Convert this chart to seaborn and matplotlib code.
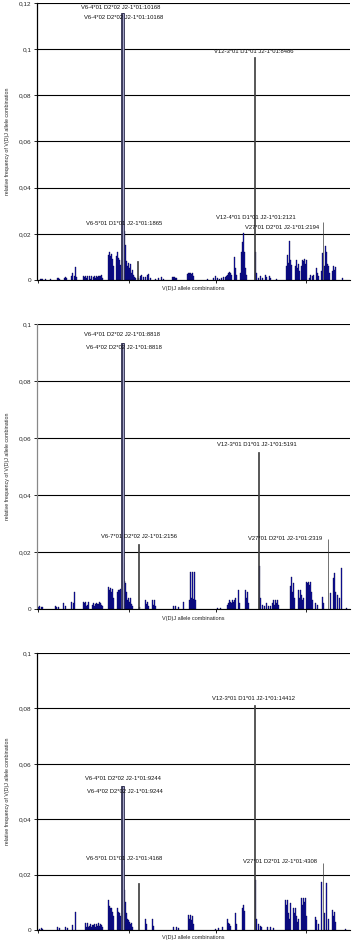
import matplotlib
matplotlib.use("Agg")
import matplotlib.pyplot as plt
import seaborn as sns
import pandas as pd

sns.set_style("white")
plt.rcParams["font.family"] = ["Liberation Sans", "DejaVu Sans"]

# ---- panel 1 : slot index along the V(D)J axis -> relative frequency
pos1 = [2, 3, 4, 5, 8, 13, 20, 21, 22, 27, 28, 29, 34, 35, 37, 38, 39,
        46, 47, 48, 49, 50, 52, 53, 54,
        56, 57, 58, 59, 60, 61, 62, 63, 64, 65,
        71, 72, 73, 74, 75, 76, 79, 80, 81, 82, 83,
        86, 87, 88, 89, 90, 91, 92, 93, 94, 95, 96, 97, 98,
        101, 103, 104, 106, 108, 110, 111, 113, 118, 121, 124, 126,
        135, 136, 137, 138, 139, 150, 151, 152, 153, 154, 155, 156,
        170, 176, 178, 180, 182, 184, 186, 188, 189, 190, 191, 192, 193, 194,
        197, 198, 199, 203, 204, 205, 206, 207, 208, 209, 218, 219,
        221, 223, 225, 228, 229, 232, 233, 239,
        249, 250, 251, 252, 253, 254, 258, 259, 260, 261, 262,
        264, 265, 266, 267, 268, 269, 272, 273, 275, 276, 279, 280, 281,
        284, 285, 287, 288, 289, 290, 291, 292, 295, 296, 297, 298, 305]
val1 = [0.0005, 0.0006, 0.0004, 0.0005, 0.0003, 0.0003, 0.0010, 0.0008, 0.0006,
        0.0009, 0.0012, 0.0007, 0.0015, 0.0032, 0.0018, 0.0058, 0.0012,
        0.0017, 0.0012, 0.0016, 0.0010, 0.0017, 0.0018, 0.0006, 0.0016,
        0.0014, 0.0019, 0.0008, 0.0016, 0.0012, 0.0019, 0.0015, 0.0018, 0.0020, 0.0010,
        0.0110, 0.0119, 0.0105, 0.0112, 0.0090, 0.0060, 0.0105, 0.0120, 0.0095, 0.0088, 0.0065,
        0.0085, 0.0212, 0.0150, 0.0080, 0.0060, 0.0075, 0.0050, 0.0068, 0.0030, 0.0043, 0.0020, 0.0012, 0.0010,
        0.0010, 0.0015, 0.0020, 0.0012, 0.0014, 0.0020, 0.0025, 0.0010, 0.0006, 0.0008, 0.0012, 0.0006,
        0.0013, 0.0012, 0.0014, 0.0010, 0.0008, 0.0025, 0.0030, 0.0028, 0.0030, 0.0024, 0.0030, 0.0018,
        0.0005, 0.0008, 0.0015, 0.0010, 0.0006, 0.0010, 0.0012, 0.0014, 0.0018, 0.0020, 0.0030, 0.0036, 0.0028, 0.0022,
        0.0100, 0.0050, 0.0020, 0.0030, 0.0120, 0.0165, 0.0205, 0.0120, 0.0050, 0.0020, 0.0123, 0.0030,
        0.0010, 0.0015, 0.0008, 0.0020, 0.0012, 0.0018, 0.0010, 0.0005,
        0.0060, 0.0110, 0.0075, 0.0167, 0.0087, 0.0065, 0.0060, 0.0087, 0.0050, 0.0070, 0.0040,
        0.0060, 0.0087, 0.0080, 0.0090, 0.0070, 0.0085, 0.0010, 0.0020, 0.0015, 0.0020, 0.0050, 0.0030, 0.0015,
        0.0040, 0.0116, 0.0060, 0.0145, 0.0120, 0.0070, 0.0060, 0.0030, 0.0040, 0.0060, 0.0045, 0.0055, 0.0010]
peak_pos1 = [84, 85]
peak_val1 = [0.1155, 0.1155]
line_pos1 = [100, 217, 286]
line_val1 = [0.0080, 0.0966, 0.0249]
labels1 = ["V6-4*01 D2*02 J2-1*01:10168", "V6-4*02 D2*02 J2-1*01:10168",
           "V12-3*01 D1*01 J2-1*01:8486", "V6-5*01 D1*01 J2-1*01:1865",
           "V12-4*01 D1*01 J2-1*01:2121", "V27*01 D2*01 J2-1*01:2194"]
yticks1 = [0, 0.02, 0.04, 0.06, 0.08, 0.10, 0.12]
yticklabels1 = ["0", "0,02", "0,04", "0,06", "0,08", "0,1", "0,12"]

# ---- panel 2
pos2 = [0, 1, 3, 5, 18, 19, 21, 26, 28, 34, 36, 37,
        46, 47, 48, 49, 50, 51,
        55, 56, 57, 58, 59, 60, 61, 62, 63, 64, 65,
        71, 72, 73, 74, 75, 76, 80, 81, 82, 83,
        86, 87, 88, 89, 90, 91, 92, 93, 94, 95,
        102, 108, 109, 110, 111, 115, 116, 117, 118,
        136, 138, 141, 146, 152, 153, 154, 155, 156, 157, 158,
        180, 183, 190, 191, 192, 193, 194, 195, 196, 197, 198,
        201, 202, 208, 209, 210, 211, 222, 223,
        225, 227, 229, 231, 233, 235, 236, 237, 238, 239, 240, 241,
        253, 254, 255, 256, 257, 261, 262, 263, 264, 265, 266,
        269, 270, 271, 272, 273, 274, 275, 278, 280, 285, 286,
        293, 296, 297, 298, 300, 302, 304, 309]
val2 = [0.0008, 0.0009, 0.0007, 0.0008, 0.0010, 0.0008, 0.0006, 0.0022, 0.0010, 0.0026, 0.0020, 0.0060,
        0.0026, 0.0020, 0.0026, 0.0012, 0.0015, 0.0026,
        0.0015, 0.0020, 0.0010, 0.0018, 0.0022, 0.0016, 0.0018, 0.0024, 0.0020, 0.0014, 0.0010,
        0.0078, 0.0065, 0.0072, 0.0060, 0.0070, 0.0040, 0.0060, 0.0067, 0.0065, 0.0070,
        0.0160, 0.0100, 0.0090, 0.0060, 0.0030, 0.0040, 0.0025, 0.0040, 0.0018, 0.0010,
        0.0008, 0.0030, 0.0018, 0.0025, 0.0012, 0.0030, 0.0015, 0.0030, 0.0010,
        0.0010, 0.0012, 0.0008, 0.0025, 0.0030, 0.0131, 0.0040, 0.0131, 0.0035, 0.0131, 0.0030,
        0.0005, 0.0005, 0.0015, 0.0020, 0.0030, 0.0025, 0.0020, 0.0030, 0.0025, 0.0030, 0.0040,
        0.0067, 0.0020, 0.0067, 0.0040, 0.0060, 0.0020, 0.0150, 0.0040,
        0.0015, 0.0010, 0.0020, 0.0012, 0.0010, 0.0020, 0.0030, 0.0015, 0.0032, 0.0020, 0.0030, 0.0015,
        0.0080, 0.0113, 0.0060, 0.0090, 0.0040, 0.0067, 0.0040, 0.0067, 0.0050, 0.0030, 0.0040,
        0.0096, 0.0090, 0.0096, 0.0085, 0.0096, 0.0060, 0.0030, 0.0020, 0.0015, 0.0043, 0.0020,
        0.0055, 0.0110, 0.0125, 0.0060, 0.0050, 0.0040, 0.0143, 0.0005]
peak_pos2 = [84, 85]
peak_val2 = [0.0934, 0.0934]
line_pos2 = [101, 221, 291]
line_val2 = [0.0228, 0.0550, 0.0246]
labels2 = ["V6-4*01 D2*02 J2-1*01:8818", "V6-4*02 D2*02 J2-1*01:8818",
           "V12-3*01 D1*01 J2-1*01:5191", "V6-7*01 D2*02 J2-1*01:2156",
           "V27*01 D2*01 J2-1*01:2319"]
yticks2 = [0, 0.02, 0.04, 0.06, 0.08, 0.10]
yticklabels2 = ["0", "0,02", "0,04", "0,06", "0,08", "0,1"]

# ---- panel 3
pos3 = [1, 3, 5, 20, 22, 28, 30, 35, 38,
        48, 49, 50, 51, 52, 53, 54, 55,
        56, 57, 58, 59, 60, 61, 62, 63, 64, 65,
        71, 72, 73, 74, 75, 76, 80, 81, 82, 83,
        86, 87, 88, 89, 90, 91, 92, 93, 94, 95,
        108, 109, 115, 116, 136, 139, 141,
        151, 152, 153, 154, 155, 156, 178, 181, 185,
        190, 191, 192, 193, 198, 199, 205, 206, 207, 218, 219,
        221, 223, 224, 230, 233, 236,
        248, 249, 250, 251, 252, 253, 256, 257, 258, 259, 260, 261,
        264, 265, 266, 267, 268, 269, 278, 279, 281,
        284, 287, 289, 291, 295, 296, 297, 298, 308]
val3 = [0.0005, 0.0006, 0.0004, 0.0010, 0.0007, 0.0012, 0.0008, 0.0018, 0.0066,
        0.0024, 0.0012, 0.0024, 0.0010, 0.0015, 0.0022, 0.0012, 0.0018,
        0.0018, 0.0020, 0.0012, 0.0022, 0.0016, 0.0024, 0.0014, 0.0020, 0.0018, 0.0010,
        0.0108, 0.0085, 0.0078, 0.0080, 0.0065, 0.0050, 0.0078, 0.0065, 0.0060, 0.0050,
        0.0235, 0.0145, 0.0100, 0.0060, 0.0040, 0.0036, 0.0030, 0.0020, 0.0025, 0.0012,
        0.0039, 0.0020, 0.0039, 0.0015, 0.0010, 0.0010, 0.0008,
        0.0054, 0.0040, 0.0054, 0.0035, 0.0050, 0.0020, 0.0005, 0.0008, 0.0010,
        0.0039, 0.0025, 0.0020, 0.0015, 0.0063, 0.0020, 0.0080, 0.0090, 0.0070, 0.0180, 0.0040,
        0.0020, 0.0015, 0.0010, 0.0010, 0.0012, 0.0008,
        0.0110, 0.0090, 0.0110, 0.0060, 0.0040, 0.0099, 0.0078, 0.0060, 0.0078, 0.0050, 0.0030, 0.0040,
        0.0117, 0.0090, 0.0117, 0.0100, 0.0117, 0.0050, 0.0048, 0.0035, 0.0020,
        0.0175, 0.0060, 0.0169, 0.0040, 0.0072, 0.0050, 0.0065, 0.0030, 0.0005]
peak_pos3 = [84, 85]
peak_val3 = [0.052, 0.052]
line_pos3 = [101, 217, 286]
line_val3 = [0.0171, 0.0811, 0.0243]
labels3 = ["V12-3*01 D1*01 J2-1*01:14412", "V6-4*01 D2*02 J2-1*01:9244",
           "V6-4*02 D2*02 J2-1*01:9244", "V6-5*01 D1*01 J2-1*01:4168",
           "V27*01 D2*01 J2-1*01:4308"]

ylabel = "relative frequency of V(D)J allele combination"
xlabel = "V(D)J allele combinations"
n_slots = 313

fig = plt.figure(figsize=(3.58, 9.42), dpi=100)

def draw_panel(rect, pos, val, peak_pos, peak_val, line_pos, line_val,
               yticks, yticklabels, labels, label_xy, spine_col, xlab_off):
    ax = fig.add_axes(rect)
    df = pd.DataFrame({"slot": pos, "freq": val})
    sns.barplot(data=df, x="slot", y="freq", native_scale=True, color="#1414b8",
                saturation=1, width=1.0, edgecolor="#00003a", linewidth=0.25,
                errorbar=None, ax=ax)
    sns.barplot(x=peak_pos, y=peak_val, native_scale=True, color="#a4a4c8",
                saturation=1, width=1.8, edgecolor="#2a2a4a", linewidth=0.6,
                errorbar=None, ax=ax)
    # one call per marked bar so that each keeps a one-slot width
    for lp, lv in zip(line_pos, line_val):
        sns.barplot(x=[lp], y=[lv], native_scale=True, color="#555555",
                    saturation=1, width=0.6, edgecolor="#3a3a3a", linewidth=0.5,
                    errorbar=None, ax=ax)
    ax.set_xlim(-1, n_slots)
    ax.set_ylim(0, yticks[-1])
    ax.set_yticks(yticks)
    ax.set_yticklabels(yticklabels, fontsize=4.6)
    ax.set_xticks([0, 91, 179, 269])
    ax.set_xticklabels([])
    ax.tick_params(axis="both", direction="out", length=2.5, width=0.6,
                   color="black", pad=1.5, bottom=True, left=True)
    ax.grid(axis="y", color="black", linewidth=0.8)
    ax.set_axisbelow(True)
    for s in ["top", "right"]:
        ax.spines[s].set_visible(False)
    ax.spines["bottom"].set_color("black")
    ax.spines["bottom"].set_linewidth(0.8)
    ax.spines["left"].set_color(spine_col)
    ax.spines["left"].set_linewidth(0.9)
    ax.set_ylabel(ylabel, fontsize=3.8)
    ax.yaxis.set_label_coords(-0.085, 0.5)
    ax.set_xlabel(xlabel, fontsize=4.0)
    ax.xaxis.set_label_coords(0.5, xlab_off)
    for lab, (tx, ty) in zip(labels, label_xy):
        ax.text(tx, ty, lab, ha="center", va="center", fontsize=4.2, color="#111111")
    return ax

draw_panel([0.1034, 0.7028, 0.8743, 0.2941], pos1, val1, peak_pos1, peak_val1,
           line_pos1, line_val1, yticks1, yticklabels1, labels1,
           [(83, 0.1178), (86, 0.1136), (216, 0.0991), (86, 0.0243), (219, 0.0270), (245, 0.0226)],
           "black", -0.022)
draw_panel([0.1034, 0.3535, 0.8743, 0.3025], pos2, val2, peak_pos2, peak_val2,
           line_pos2, line_val2, yticks2, yticklabels2, labels2,
           [(84, 0.0962), (86, 0.0916), (220, 0.0576), (101, 0.0256), (248, 0.0246)],
           "#888888", -0.025)
draw_panel([0.1034, 0.0127, 0.8743, 0.2941], pos3, val3, peak_pos3, peak_val3,
           line_pos3, line_val3, yticks2, yticklabels2, labels3,
           [(216, 0.0835), (85, 0.0546), (87, 0.0499), (86, 0.0260), (243, 0.0246)],
           "black", -0.018)

fig.savefig("out.png", dpi=100)
